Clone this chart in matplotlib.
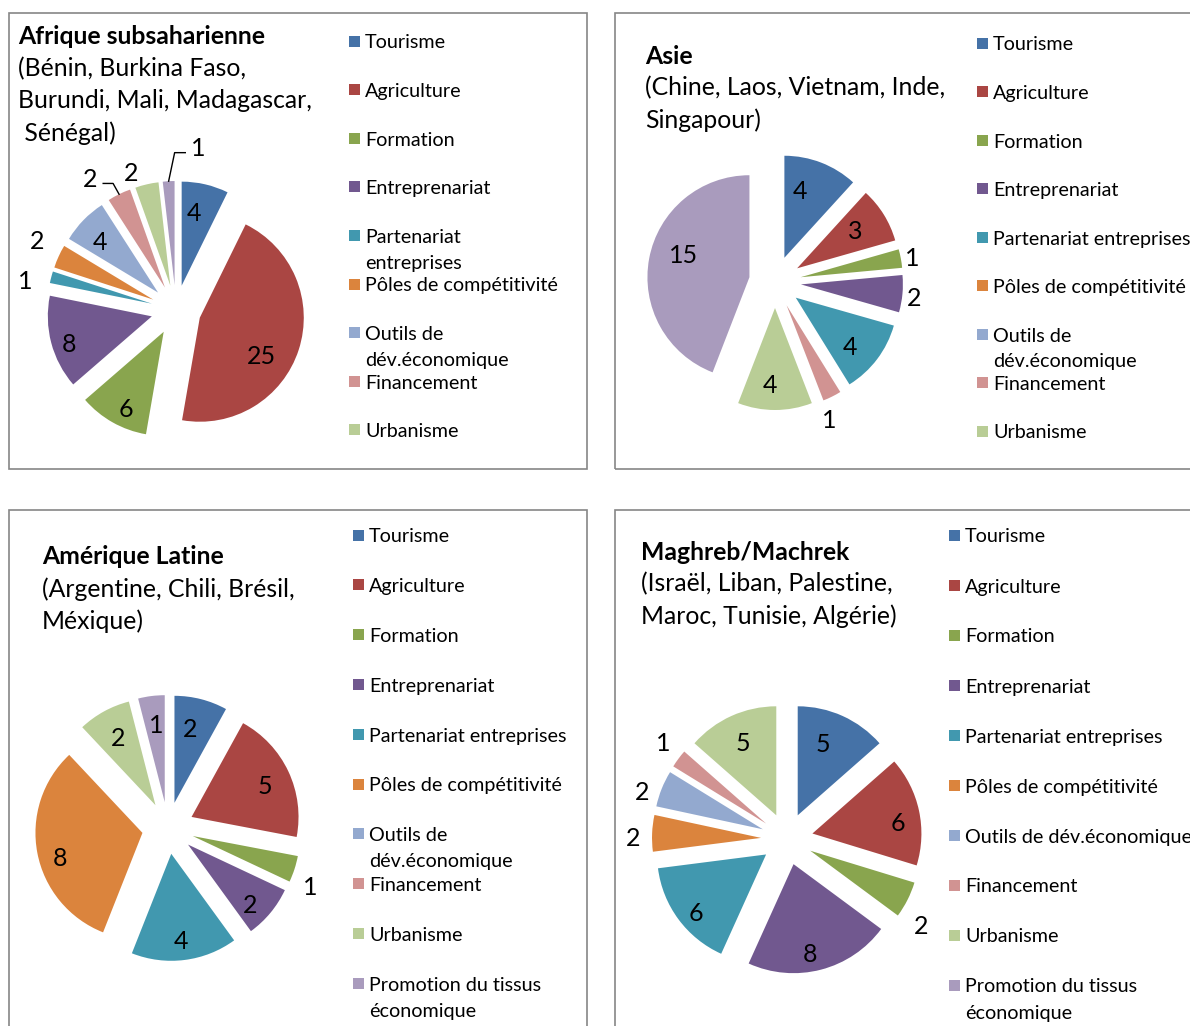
import numpy as np
import matplotlib
matplotlib.use("Agg")
import matplotlib.pyplot as plt
from matplotlib.patches import Rectangle

# ---------------- data ----------------
categories = ['Tourisme', 'Agriculture', 'Formation', 'Entreprenariat',
              'Partenariat entreprises', 'Pôles de compétitivité',
              'Outils de dév.économique', 'Financement', 'Urbanisme',
              'Promotion du tissus économique']
colors = ['#4572A7', '#AA4643', '#89A54E', '#71588F', '#4198AF',
          '#DB843D', '#93A9CF', '#D19392', '#B9CD96', '#A99BBD']

afrique = [4, 25, 6, 8, 1, 2, 4, 2, 2, 1]
asie = [4, 3, 1, 2, 4, 0, 0, 1, 4, 15]
amerique = [2, 5, 1, 2, 4, 8, 0, 0, 2, 1]
maghreb = [5, 6, 2, 8, 6, 2, 2, 1, 5, 0]

titles = {
    'afrique': ('Afrique subsaharienne',
                ['(Bénin, Burkina Faso,', 'Burundi, Mali, Madagascar,', ' Sénégal)']),
    'asie': ('Asie', ['(Chine, Laos, Vietnam, Inde,', 'Singapour)']),
    'amerique': ('Amérique Latine', ['(Argentine, Chili, Brésil,', 'Méxique)']),
    'maghreb': ('Maghreb/Machrek', ['(Israël, Liban, Palestine,', 'Maroc, Tunisie, Algérie)']),
}

legend_afrique = ['Tourisme', 'Agriculture', 'Formation', 'Entreprenariat',
                  'Partenariat\nentreprises', 'Pôles de compétitivité',
                  'Outils de\ndév.économique', 'Financement', 'Urbanisme']
legend_asie = ['Tourisme', 'Agriculture', 'Formation', 'Entreprenariat',
               'Partenariat entreprises', 'Pôles de compétitivité',
               'Outils de\ndév.économique', 'Financement', 'Urbanisme']
legend_amerique = ['Tourisme', 'Agriculture', 'Formation', 'Entreprenariat',
                   'Partenariat entreprises', 'Pôles de compétitivité',
                   'Outils de\ndév.économique', 'Financement', 'Urbanisme',
                   'Promotion du tissus\néconomique']
legend_maghreb = ['Tourisme', 'Agriculture', 'Formation', 'Entreprenariat',
                  'Partenariat entreprises', 'Pôles de compétitivité',
                  'Outils de dév.économique', 'Financement', 'Urbanisme',
                  'Promotion du tissus\néconomique']

# ---------------- layout (pixels, y measured downward) ----------------
W, H = 1190, 1026
FONT = ['Lato', 'DejaVu Sans']
TXT_DY = 2  # small downward shift of text centres

panels = [
    dict(key='afrique', values=afrique, legend=legend_afrique,
         box=(9, 13, 587, 469), center=(176, 310), radius=104, explode=25,
         title_xy=(18, 35), sub_x=[18, 18, 18], line_step=32,
         leg_x=349, leg_y0=41, leg_step=48.6,
         lab_r=[0.72, 0.69, 0.81, 0.84, 1.24, 1.26, 0.75, 1.28, 1.16, 1.35],
         lab_off=[-4, 13, -3, -3, -4, 3, -2, -8, -6, 13],
         leaders={7: 1, 9: -1}),
    dict(key='asie', values=asie, legend=legend_asie,
         box=(615, 13, 1250, 469), center=(775, 282), radius=102, explode=26,
         title_xy=(645, 54), sub_x=[645, 645], line_step=32,
         leg_x=977, leg_y0=43, leg_step=48.5,
         lab_r=[0.69, 0.69, 1.11, 1.12, 0.71, 0.7, 0.7, 1.19, 0.74, 0.69],
         lab_off=[-8, -2, 0, 1, 4, 0, 0, 6, 4, 9],
         leaders={}),
    dict(key='amerique', values=amerique, legend=legend_amerique,
         box=(9, 510, 587, 1080), center=(168, 828), radius=107, explode=26,
         title_xy=(42, 555), sub_x=[42, 42], line_step=32,
         leg_x=353, leg_y0=535, leg_step=49.8,
         lab_r=[0.72, 0.75, 1.19, 0.80, 0.81, 0.80, 0.7, 0.7, 0.73, 0.74],
         lab_off=[-3, 1, 5, 4, 1, -5, 0, 0, 0, 1],
         leaders={}),
    dict(key='maghreb', values=maghreb, legend=legend_maghreb,
         box=(615, 510, 1250, 1080), center=(787, 839), radius=109, explode=26,
         title_xy=(641, 550), sub_x=[641, 641], line_step=32,
         leg_x=949, leg_y0=535, leg_step=50,
         lab_r=[0.71, 0.79, 1.22, 0.82, 0.83, 1.17, 1.16, 1.21, 0.74, 0.7],
         lab_off=[-5, 4, 7, 4, -3, -2, -4, 2, 0, 0],
         leaders={}),
]

TITLE_FS = 17.8
LEG_FS = 14.2
LAB_FS = 18

fig = plt.figure(figsize=(W / 100, H / 100), dpi=100)
ax = fig.add_axes([0, 0, 1, 1])


def Y(y):
    return H - y


for p in panels:
    x0, y0, x1, y1 = p['box']
    ax.add_patch(Rectangle((x0, Y(y1)), x1 - x0, y1 - y0, fill=False,
                           edgecolor='#868686', linewidth=1.2, zorder=1))
    # titles
    tx, ty = p['title_xy']
    bold, subs = titles[p['key']]
    ax.text(tx, Y(ty + TXT_DY), bold, fontsize=TITLE_FS, fontweight='bold', family=FONT,
            ha='left', va='center', color='black')
    for i, s in enumerate(subs):
        ax.text(p['sub_x'][i], Y(ty + (i + 1) * p['line_step'] + TXT_DY), s,
                fontsize=TITLE_FS, family=FONT, ha='left', va='center', color='black')
    # pie (explode given in pixels, as matplotlib uses data units)
    vals = np.array(p['values'], dtype=float)
    cx, cy = p['center']
    wedges, _ = ax.pie(vals, colors=colors, startangle=90, counterclock=False,
                       center=(cx, Y(cy)), radius=p['radius'],
                       explode=[p['explode']] * len(vals),
                       wedgeprops=dict(linewidth=0), normalize=True)
    for i, w in enumerate(wedges):
        if vals[i] <= 0:
            continue
        mid = np.deg2rad((w.theta1 + w.theta2) / 2.0)
        ang = mid - np.deg2rad(p['lab_off'][i])
        wx, wy = w.center
        lx = wx + p['lab_r'][i] * w.r * np.cos(ang)
        ly = wy + p['lab_r'][i] * w.r * np.sin(ang)
        ax.text(lx, ly - TXT_DY, f"{int(vals[i])}", fontsize=LAB_FS, family=FONT,
                ha='center', va='center', color='black', zorder=5)
        if i in p['leaders']:
            s = p['leaders'][i]
            ox = wx + w.r * np.cos(mid)
            oy = wy + w.r * np.sin(mid)
            yy = ly - 6
            ax.plot([lx + s * 13, ox - s * 6, ox], [yy, yy, oy],
                    color='black', linewidth=1.0, zorder=4)
    # legend
    for i, lab in enumerate(p['legend']):
        yc = p['leg_y0'] + i * p['leg_step']
        ax.add_patch(Rectangle((p['leg_x'], Y(yc + 5.5)), 11, 11,
                               facecolor=colors[i], edgecolor='none', zorder=3))
        for j, line in enumerate(lab.split('\n')):
            ax.text(p['leg_x'] + 16, Y(yc + j * 26 + TXT_DY), line, fontsize=LEG_FS,
                    family=FONT, ha='left', va='center', color='black')

ax.set_xlim(0, W)
ax.set_ylim(0, H)
ax.set_aspect('equal')
ax.axis('off')
fig.savefig('out.png', dpi=100)
